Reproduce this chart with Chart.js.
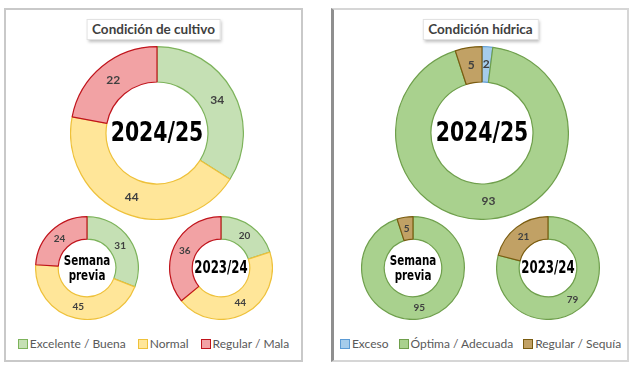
<!DOCTYPE html>
<html lang="es">
<head>
  <meta charset="UTF-8" />
  <title>Condición de cultivo y condición hídrica</title>
  <script src="https://cdn.jsdelivr.net/npm/chart.js"></script>
  <style>
    body {
      margin: 0;
      background: #fff;
      font-family: Lato, "Open Sans", Arial, sans-serif;
      width: 640px;
      height: 367px;
      position: relative;
      overflow: hidden;
    }
    .panel {
      position: absolute;
      top: 8px;
      height: 354px;
      box-sizing: border-box;
      border: 2px solid #c9c9c9;
      background: #fff;
    }
    #left { left: 4px; width: 299px; }
    #right { left: 331px; width: 298px; border-left: 3px solid #8f8f8f; border-color: #d6d6d6 #d6d6d6 #d6d6d6 #8f8f8f; }
    .title {
      position: absolute;
      top: 9px;
      left: 50%;
      transform: translateX(-50%);
      background: #fff;
      border: 1px solid #e2e2e2;
      box-shadow: 1px 2px 3px rgba(0,0,0,0.25);
      padding: 1px 5px 2px;
      font-size: 13.5px;
      font-weight: bold;
      color: #404040;
      white-space: nowrap;
    }
    canvas { position: absolute; }
    .legend {
      position: absolute;
      top: 326px;
      left: 0;
      right: 0;
      display: flex;
      justify-content: center;
      gap: 12px;
      font-size: 12px;
      color: #595959;
      white-space: nowrap;
    }
    #legendRight { gap: 10px; }
    .legend span.box {
      display: inline-block;
      width: 8px;
      height: 8px;
      border: 1.5px solid;
      margin-right: 2px;
      vertical-align: -1px;
    }
  </style>
</head>
<body>

<div class="panel" id="left">
  <div class="title">Condición de cultivo</div>
  <div class="legend" id="legendLeft"></div>
</div>
<div class="panel" id="right">
  <div class="title">Condición hídrica</div>
  <div class="legend" id="legendRight"></div>
</div>

<canvas id="c_cult_big"></canvas>
<canvas id="c_cult_prev"></canvas>
<canvas id="c_cult_old"></canvas>
<canvas id="c_hid_big"></canvas>
<canvas id="c_hid_prev"></canvas>
<canvas id="c_hid_old"></canvas>

<script>
// datos
const cultivoLabels = ['Excelente / Buena', 'Normal', 'Regular / Mala'];
const cultivo2425 = [34, 44, 22];
const cultivoPrevia = [31, 45, 24];
const cultivo2324 = [20, 44, 36];

const hidricaLabels = ['Exceso', 'Óptima / Adecuada', 'Regular / Sequía'];
const hidrica2425 = [2, 93, 5];
const hidricaPrevia = [0, 95, 5];
const hidrica2324 = [0, 79, 21];

const cultivoFill = ['#C5E0B4', '#FFE699', '#F2A2A4'];
const cultivoBorder = ['#7DB35B', '#EEC13A', '#C0141C'];
const hidricaFill = ['#A5CCEB', '#A9D18E', '#C1A165'];
const hidricaBorder = ['#5B9BD5', '#6F9F4C', '#7A5C10'];

// etiquetas de valor y texto central
const donutText = {
  id: 'donutText',
  afterDatasetsDraw(chart, args, opts) {
    const ctx = chart.ctx;
    const meta = chart.getDatasetMeta(0);
    const data = chart.data.datasets[0].data;
    ctx.save();
    ctx.textAlign = 'center';
    ctx.textBaseline = 'middle';
    ctx.fillStyle = '#404040';
    ctx.font = `bold ${opts.valueSize}px Lato, "Open Sans", sans-serif`;
    meta.data.forEach((arc, i) => {
      if (!data[i]) return;
      const p = arc.tooltipPosition();
      ctx.fillText(data[i], p.x, p.y);
    });
    const cx = (chart.chartArea.left + chart.chartArea.right) / 2;
    const cy = (chart.chartArea.top + chart.chartArea.bottom) / 2;
    ctx.fillStyle = '#000';
    ctx.font = `bold ${opts.centerSize}px "DejaVu Sans Condensed", "DejaVu Sans", sans-serif`;
    ctx.fontStretch = 'condensed';
    const lines = opts.center;
    const lh = opts.centerSize * 1.1;
    ctx.translate(cx, cy);
    ctx.scale(opts.squeeze, 1);
    lines.forEach((t, k) => {
      ctx.fillText(t, 0, (k - (lines.length - 1) / 2) * lh + 1);
    });
    ctx.restore();
  }
};

function donut(id, cx, cy, r, cut, values, fill, border, center, centerSize, squeeze, valueSize) {
  const el = document.getElementById(id);
  const size = Math.round(2 * r + 2);
  el.width = size;
  el.height = size;
  el.style.left = (cx - size / 2) + 'px';
  el.style.top = (cy - size / 2) + 'px';
  new Chart(el, {
    type: 'doughnut',
    data: {
      datasets: [{
        data: values,
        backgroundColor: fill,
        borderColor: border,
        borderWidth: 1.2,
        hoverOffset: 0
      }]
    },
    options: {
      responsive: false,
      animation: false,
      cutout: cut,
      plugins: {
        legend: { display: false },
        tooltip: { enabled: false },
        donutText: { center: center, centerSize: centerSize, squeeze: squeeze, valueSize: valueSize }
      }
    },
    plugins: [donutText]
  });
}

donut('c_cult_big', 157, 133, 86, '59%', cultivo2425, cultivoFill, cultivoBorder, ['2024/25'], 27, 0.84, 12);
donut('c_cult_prev', 87, 268, 51, '56%', cultivoPrevia, cultivoFill, cultivoBorder, ['Semana', 'previa'], 14, 0.82, 10);
donut('c_cult_old', 221, 268, 51, '56%', cultivo2324, cultivoFill, cultivoBorder, ['2023/24'], 17, 0.77, 10);
donut('c_hid_big', 482, 133, 86, '59%', hidrica2425, hidricaFill, hidricaBorder, ['2024/25'], 27, 0.84, 12);
donut('c_hid_prev', 413, 268, 51, '56%', hidricaPrevia, hidricaFill, hidricaBorder, ['Semana', 'previa'], 14, 0.82, 10);
donut('c_hid_old', 548, 268, 51, '56%', hidrica2324, hidricaFill, hidricaBorder, ['2023/24'], 17, 0.77, 10);

function legend(elId, labels, fill, border) {
  const el = document.getElementById(elId);
  labels.forEach((l, i) => {
    const item = document.createElement('div');
    item.innerHTML = `<span class="box" style="background:${fill[i]};border-color:${border[i]}"></span>${l}`;
    el.appendChild(item);
  });
}
legend('legendLeft', cultivoLabels, cultivoFill, cultivoBorder);
legend('legendRight', hidricaLabels, hidricaFill, hidricaBorder);
</script>
</body>
</html>
